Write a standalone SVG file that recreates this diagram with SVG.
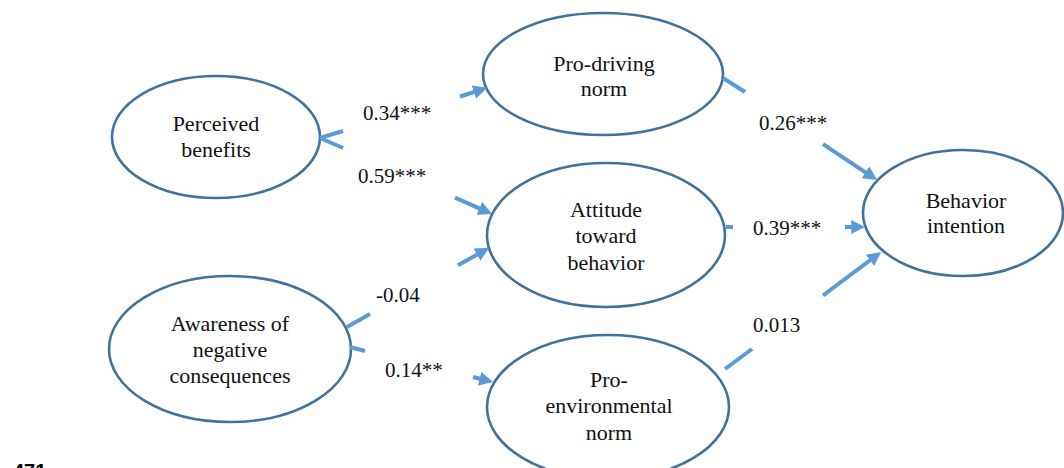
<svg xmlns="http://www.w3.org/2000/svg" width="1064" height="468" viewBox="0 0 1064 468">
<style>
.node{fill:#fff;stroke:#41719C;stroke-width:2.6}
.t{font-family:'Liberation Serif','DejaVu Serif',serif;font-size:22px;fill:#111;text-anchor:middle}
.lbl{font-family:'Liberation Serif','DejaVu Serif',serif;font-size:21px;fill:#111}
.c{fill:none;stroke:#5B9BD5;stroke-width:4;stroke-linecap:butt}
.ca{fill:none;stroke:#5B9BD5;stroke-width:4;marker-end:url(#ah)}
</style>
<defs>
<marker id="ah" viewBox="0 0 10 10" refX="7" refY="5" markerWidth="3.5" markerHeight="3.5" orient="auto">
<path d="M0,0 L10,5 L0,10 z" fill="#5B9BD5"/>
</marker>
</defs>
<rect width="1064" height="468" fill="#fff"/>
<g id="perceived-benefits">
<ellipse class="node" cx="216" cy="137" rx="104" ry="61"/>
<text class="t" font-family="Liberation Serif" x="216" y="131">Perceived</text>
<text class="t" font-family="Liberation Serif" x="216" y="157">benefits</text>
</g>
<g id="awareness">
<ellipse class="node" cx="230" cy="349" rx="121" ry="73"/>
<text class="t" x="230" y="331">Awareness of</text>
<text class="t" x="230" y="357">negative</text>
<text class="t" x="230" y="383">consequences</text>
</g>
<g id="pro-driving-norm">
<ellipse class="node" cx="603" cy="74" rx="120" ry="61"/>
<text class="t" x="604" y="71">Pro-driving</text>
<text class="t" x="604" y="96">norm</text>
</g>
<g id="attitude">
<ellipse class="node" cx="606" cy="235" rx="119" ry="72"/>
<text class="t" x="606" y="217">Attitude</text>
<text class="t" x="606" y="243">toward</text>
<text class="t" x="606" y="270">behavior</text>
</g>
<g id="pro-environmental-norm">
<ellipse class="node" cx="608" cy="407" rx="121" ry="72"/>
<text class="t" x="609" y="387">Pro-</text>
<text class="t" x="609" y="413">environmental</text>
<text class="t" x="609" y="440">norm</text>
</g>
<g id="behavior-intention">
<ellipse class="node" cx="963" cy="213" rx="100" ry="63"/>
<text class="t" x="966" y="208">Behavior</text>
<text class="t" x="966" y="233">intention</text>
</g>
<g id="connectors">
<path class="c" d="M320,138 L343,131"/>
<path class="ca" d="M460,96.5 L483.2,89.1"/>
<path class="c" d="M320,138 L343,148"/>
<path class="ca" d="M455,197.7 L488.3,212.4"/>
<path class="c" d="M347,327 L370,314"/>
<path class="ca" d="M458,265.3 L485.5,249.9"/>
<path class="c" d="M350,347 L365,351"/>
<path class="ca" d="M473,377 L489.1,381"/>
<path class="c" d="M723,78 L745,92"/>
<path class="ca" d="M823,144.2 L873.7,177.8"/>
<path class="c" d="M726,227 L733,227"/>
<path class="ca" d="M845,227 L861,227"/>
<path class="c" d="M725,369 L752,349"/>
<path class="ca" d="M823,295.5 L877.8,254.4"/>
</g>
<g id="labels">
<text class="lbl" x="363" y="120">0.34***</text>
<text class="lbl" x="358" y="183">0.59***</text>
<text class="lbl" x="376" y="302">-0.04</text>
<text class="lbl" x="385" y="377">0.14**</text>
<text class="lbl" x="759" y="130">0.26***</text>
<text class="lbl" x="753" y="235">0.39***</text>
<text class="lbl" x="753" y="332">0.013</text>
</g>
<text x="13" y="478" font-family="Liberation Sans, Arial, sans-serif" font-weight="bold" font-size="20" fill="#000">471</text>
</svg>
